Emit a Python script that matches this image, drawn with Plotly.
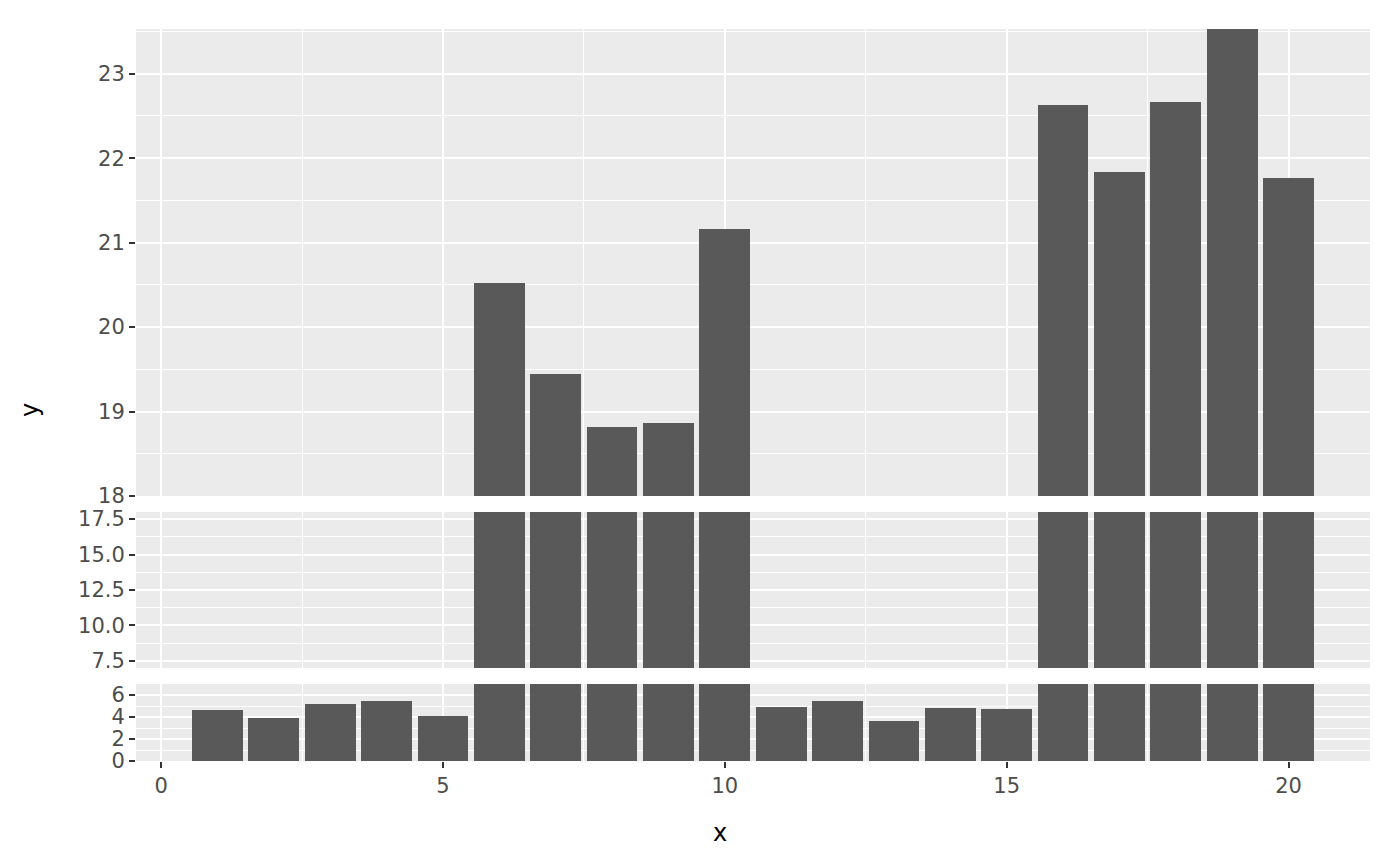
import plotly.graph_objects as go

# data
x_vals = list(range(1, 21))
y_vals = [4.66, 3.95, 5.20, 5.45, 4.09, 20.52, 19.45, 18.82, 18.86, 21.16,
          4.90, 5.43, 3.64, 4.81, 4.72, 22.63, 21.84, 22.67, 23.53, 21.77]
# axis break segments (y ranges of the three panels, bottom to top)
seg_low = [0, 7]
seg_mid = [7, 18]
seg_top = [18, max(y_vals)]

W, H = 1400, 866
OFF = 8  # page body offset
ML, MR, MT, MB = 136 - OFF, 30 + OFF, 29 - OFF, 105 + OFF
PH = H - MT - MB
PW = W - ML - MR
BOT = 761  # panel bottom pixel in screenshot

def dom(top_px, bot_px):
    return [(BOT - bot_px) / PH, (BOT - top_px) / PH]

BAR = "#595959"
BG = "#EBEBEB"
TICKC = "#4D4D4D"
FONT = "DejaVu Sans"

fig = go.Figure()
for ya in ["y", "y2", "y3"]:
    fig.add_trace(go.Bar(x=x_vals, y=y_vals, width=0.9, marker=dict(color=BAR, line=dict(width=0)),
                         xaxis="x", yaxis=ya, showlegend=False))

yax_common = dict(
    showline=False, zeroline=False, ticks="outside", ticklen=6, tickwidth=2, tickcolor="#333333",
    gridcolor="white", gridwidth=2.2,
    tickfont=dict(family=FONT, size=21, color=TICKC),
    anchor="x", fixedrange=True,
)

fig.update_layout(
    width=W, height=H,
    margin=dict(l=ML, r=MR, t=MT, b=MB),
    paper_bgcolor="white", plot_bgcolor=BG,
    bargap=0,
    xaxis=dict(
        range=[-0.445, 21.445], domain=[0, 1], anchor="y",
        tickmode="linear", tick0=0, dtick=5,
        showline=False, zeroline=False, ticks="outside", ticklen=6, tickwidth=2, tickcolor="#333333",
        gridcolor="white", gridwidth=2.2,
        minor=dict(tickmode="linear", tick0=0, dtick=2.5, showgrid=True, gridcolor="white", gridwidth=1.1, ticks=""),
        tickfont=dict(family=FONT, size=21, color=TICKC),
    ),
    yaxis=dict(domain=dom(684, 761), range=seg_low, tickmode="linear", tick0=0, dtick=2,
               minor=dict(tickmode="linear", tick0=0, dtick=1, showgrid=True, gridcolor="white", gridwidth=1.1, ticks=""),
               **yax_common),
    yaxis2=dict(domain=dom(512, 668), range=seg_mid, tickmode="linear", tick0=0, dtick=2.5, tickformat=".1f",
                minor=dict(tickmode="linear", tick0=0, dtick=1.25, showgrid=True, gridcolor="white", gridwidth=1.1, ticks=""),
                **yax_common),
    yaxis3=dict(domain=dom(29, 496), range=seg_top, tickmode="linear", tick0=0, dtick=1,
                minor=dict(tickmode="linear", tick0=0, dtick=0.5, showgrid=True, gridcolor="white", gridwidth=1.1, ticks=""),
                **yax_common),
    annotations=[
        dict(text="y", xref="paper", yref="paper", x=(30 - 136) / PW, y=(BOT - 410) / PH,
             showarrow=False, textangle=-90, font=dict(family=FONT, size=24, color="black"),
             xanchor="center", yanchor="middle"),
        dict(text="x", xref="paper", yref="paper", x=(720 - 136) / PW, y=(BOT - 833) / PH,
             showarrow=False, font=dict(family=FONT, size=24, color="black"),
             xanchor="center", yanchor="middle"),
    ],
)

fig.write_html("out.html")
